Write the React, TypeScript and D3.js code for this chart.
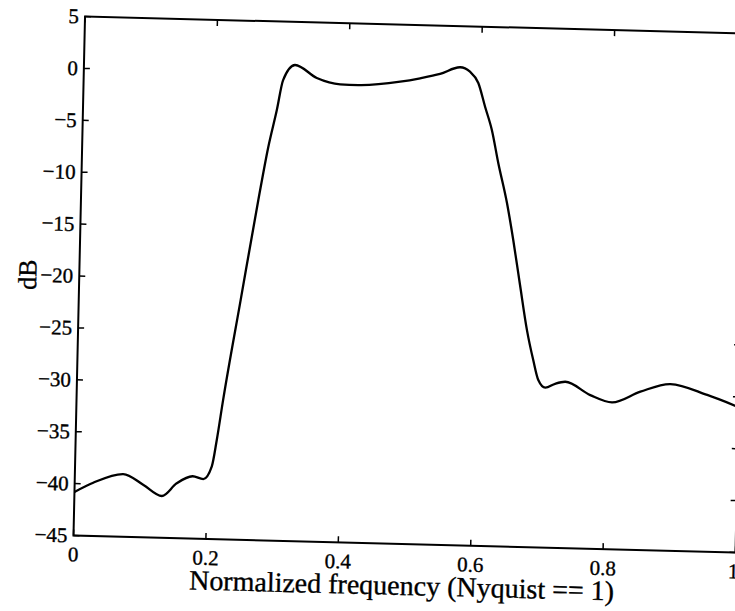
import React from "react";
import * as d3 from "d3";

// Magnitude response of the bandpass filter (normalized frequency, dB)
const freq = [
  0, 0.028, 0.073, 0.104, 0.132, 0.154, 0.178, 0.194, 0.2065, 0.2131, 0.2213,
  0.2445, 0.2678, 0.2808, 0.2927, 0.3012, 0.3188, 0.352, 0.3875, 0.415, 0.478,
  0.508, 0.538, 0.568, 0.583, 0.596, 0.607, 0.618, 0.6288, 0.6433, 0.654,
  0.6658, 0.6777, 0.6882, 0.6965, 0.7073, 0.722, 0.7373, 0.7755, 0.8085, 0.851,
  0.896, 0.952, 1.0,
];
const magnitudeDb = [
  -40.8, -39.87, -38.96, -39.96, -40.98, -39.72, -39.0, -39.25, -38.0, -35.45,
  -31.6, -21.9, -12.24, -7.2, -3.53, -0.63, 0.85, -0.35, -0.9, -0.93, -0.5,
  -0.12, 0.35, 1.04, 0.64, -0.43, -2.7, -4.92, -8.08, -11.92, -15.46, -19.8,
  -24.1, -26.97, -28.88, -29.6, -29.2, -28.98, -30.2, -30.85, -29.75, -28.94,
  -29.9, -31.0,
];

const xTicks = [0, 0.2, 0.4, 0.6, 0.8, 1];
const yTicks = [5, 0, -5, -10, -15, -20, -25, -30, -35, -40, -45];
const xLabel = "Normalized frequency (Nyquist == 1)";
const yLabel = "dB";

const W = 735;
const H = 611;
const plotW = 662;
const plotH = 519;
const tickLen = 6;
const font = "'Liberation Serif', 'Times New Roman', serif";

export default function App() {
  const x = d3.scaleLinear().domain([0, 1]).range([0, plotW]);
  const y = d3.scaleLinear().domain([-45, 5]).range([0, -plotH]);

  const pts: [number, number][] = freq.map((f, i) => [f, magnitudeDb[i]]);
  const line = d3
    .line<[number, number]>()
    .x((d) => x(d[0]))
    .y((d) => y(d[1]))
    .curve(d3.curveMonotoneX);

  const fmtY = (v: number) => (v < 0 ? "\u2212" + Math.abs(v) : String(v));
  const fmtX = (v: number) => String(v);

  // Slightly tilted plot frame, origin at the lower-left corner of the axes
  const frame = "matrix(1,0.0257,-0.0222,1,73.5,535.5)";
  const textStroke = { stroke: "#000", strokeWidth: 0.35 };

  return (
    <svg
      width={W}
      height={H}
      style={{ position: "absolute", left: 0, top: 0, background: "#fff" }}
    >
      <rect width={W} height={H} fill="#fff" />
      <g transform={frame} fontFamily={font} fill="#000">
        {/* axes box */}
        <rect
          x={0}
          y={-plotH}
          width={plotW}
          height={plotH}
          fill="none"
          stroke="#000"
          strokeWidth={2}
        />
        {/* x ticks (bottom and top, pointing inward) */}
        {xTicks.map((t) => (
          <g key={"xt" + t}>
            <line x1={x(t)} x2={x(t)} y1={0} y2={-tickLen} stroke="#000" strokeWidth={1.5} />
            <line
              x1={x(t)}
              x2={x(t)}
              y1={-plotH}
              y2={-plotH + tickLen}
              stroke="#000"
              strokeWidth={1.5}
            />
            <text x={x(t) - (t === 1 ? 2 : 0)} y={26} fontSize={21} textAnchor="middle" {...textStroke}>
              {fmtX(t)}
            </text>
          </g>
        ))}
        {/* y ticks (left and right, pointing inward) */}
        {yTicks.map((t) => (
          <g key={"yt" + t}>
            <line x1={0} x2={tickLen} y1={y(t)} y2={y(t)} stroke="#000" strokeWidth={1.5} />
            <line
              x1={plotW}
              x2={plotW - tickLen}
              y1={y(t)}
              y2={y(t)}
              stroke="#000"
              strokeWidth={1.5}
            />
            <text
              x={-6}
              y={y(t)}
              fontSize={21}
              textAnchor="end"
              dominantBaseline="central"
              {...textStroke}
            >
              {fmtY(t)}
            </text>
          </g>
        ))}
        {/* response curve */}
        <path d={line(pts) ?? ""} fill="none" stroke="#000" strokeWidth={2.3} />
        {/* axis labels */}
        <text x={plotW / 2 - 2} y={51} fontSize={28} textAnchor="middle" {...textStroke}>
          {xLabel}
        </text>
        <text
          transform={`translate(-43,${-plotH / 2}) rotate(-90)`}
          fontSize={26}
          textAnchor="middle"
          {...textStroke}
        >
          {yLabel}
        </text>
      </g>
    </svg>
  );
}
